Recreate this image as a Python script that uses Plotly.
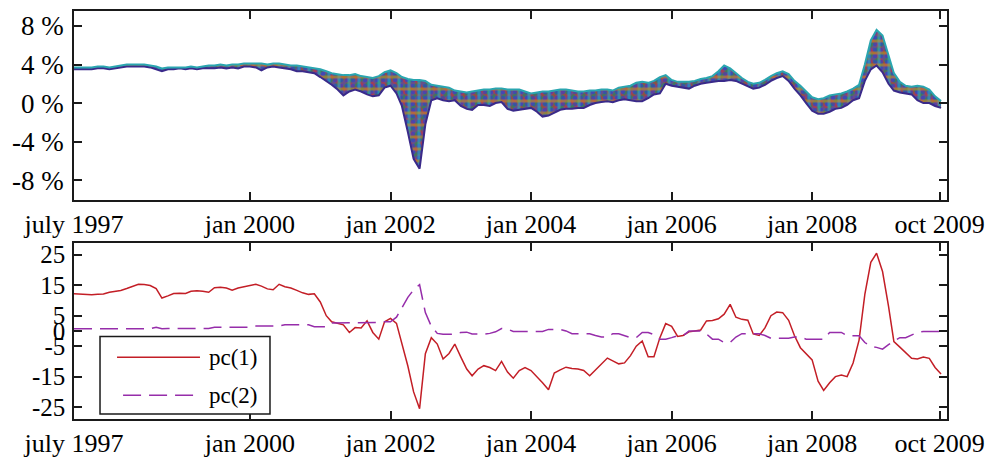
import plotly.graph_objects as go
import pandas as pd

# ---------------- data (monthly observations, July 1997 .. late 2009) ----------------
dates = pd.date_range("1997-07-01", periods=149, freq="MS")

# top panel: upper / lower edge of the fan of curves (in %)
band_upper = [
    3.7, 3.7, 3.7, 3.7, 3.8, 3.8, 3.7, 3.8, 3.9, 4.0,
    4.0, 4.0, 4.0, 3.9, 3.8, 3.6, 3.7, 3.7, 3.7, 3.7,
    3.8, 3.7, 3.8, 3.9, 3.9, 4.0, 3.9, 4.0, 4.0, 4.1,
    4.1, 4.1, 4.1, 4.0, 4.1, 4.1, 4.0, 3.9, 3.9, 3.8,
    3.7, 3.6, 3.5, 3.3, 3.1, 3.0, 2.9, 2.9, 3.0, 2.8,
    2.7, 2.6, 2.8, 3.2, 3.4, 3.1, 2.7, 2.5, 2.4, 2.4,
    2.3, 1.9, 1.8, 1.7, 1.6, 1.3, 1.2, 1.1, 1.2, 1.3,
    1.4, 1.4, 1.5, 1.5, 1.4, 1.4, 1.4, 1.2, 1.0, 1.1,
    1.2, 1.2, 1.3, 1.4, 1.4, 1.3, 1.2, 1.2, 1.3, 1.3,
    1.4, 1.4, 1.3, 1.6, 1.7, 1.8, 2.1, 2.2, 2.1, 2.3,
    2.7, 2.9, 2.4, 2.2, 2.2, 2.2, 2.3, 2.5, 2.6, 2.8,
    3.3, 3.9, 3.6, 3.1, 2.6, 2.2, 2.0, 2.1, 2.4, 2.8,
    3.1, 3.3, 3.0, 2.3, 1.8, 1.2, 0.6, 0.4, 0.5, 0.8,
    0.9, 1.0, 1.2, 1.5, 1.9, 4.0, 6.5, 7.6, 7.0, 5.0,
    3.1, 2.2, 1.8, 1.7, 1.8, 1.7, 1.4, 0.7, 0.2,
]
band_lower = [
    3.5, 3.5, 3.5, 3.5, 3.6, 3.6, 3.5, 3.6, 3.7, 3.8,
    3.8, 3.8, 3.8, 3.7, 3.5, 3.3, 3.5, 3.5, 3.6, 3.5,
    3.6, 3.5, 3.6, 3.6, 3.6, 3.7, 3.6, 3.7, 3.6, 3.8,
    3.8, 3.7, 3.4, 3.7, 3.8, 3.7, 3.6, 3.5, 3.3, 3.3,
    3.2, 3.1, 2.7, 2.3, 1.9, 1.4, 0.8, 1.2, 1.4, 1.2,
    0.9, 0.7, 0.8, 1.6, 1.8, 1.0, -0.3, -3.0, -5.8, -6.8,
    -2.2, 0.3, 0.5, 0.3, 0.2, 0.3, -0.3, -0.6, -0.7, -0.2,
    -0.2, -0.3, 0.0, 0.1, -0.6, -0.8, -0.7, -0.6, -0.5, -0.9,
    -1.4, -1.3, -1.0, -0.7, -0.6, -0.6, -0.5, -0.5, -0.2, 0.0,
    0.1, 0.2, 0.1, 0.3, 0.4, 0.3, 0.2, 0.2, 0.5, 0.9,
    1.0, 2.0, 1.8, 1.7, 1.6, 1.5, 1.8, 2.0, 2.1, 2.2,
    2.3, 2.3, 2.4, 2.3, 2.0, 1.7, 1.5, 1.6, 1.9, 2.3,
    2.6, 2.8, 2.3, 1.5, 0.8, 0.0, -0.8, -1.1, -1.1, -0.9,
    -0.6, -0.5, -0.2, 0.3, 0.5, 2.3, 3.5, 3.9, 3.2, 2.0,
    1.3, 1.1, 1.0, 0.9, 0.3, 0.0, 0.0, -0.3, -0.5,
]

# bottom panel: principal components
pc1 = [
    12.2, 12.1, 11.9, 11.9, 12.0, 12.1, 12.7, 13.0, 13.3, 13.9,
    14.7, 15.3, 15.2, 14.9, 13.9, 10.8, 11.5, 12.3, 12.4, 12.3,
    13.0, 13.2, 13.0, 12.7, 14.2, 14.3, 14.1, 13.4, 14.1, 14.5,
    15.1, 15.3, 14.7, 13.8, 13.5, 15.3, 14.5, 14.1, 13.3, 12.5,
    12.0, 12.2, 9.5, 5.0, 3.0, 2.6, 2.0, -0.5, 1.1, 1.0,
    3.3, -0.5, -2.7, 3.0, 4.1, 2.5, -4.0, -11.5, -20.0, -25.5,
    -7.5, -2.2, -4.3, -9.2, -7.4, -4.3, -8.5, -12.5, -14.7, -12.5,
    -11.4, -12.0, -13.0, -10.0, -13.5, -15.5, -13.0, -12.0, -13.0, -15.0,
    -17.0, -19.3, -13.8, -12.8, -11.9, -12.3, -12.5, -13.0, -14.7, -12.8,
    -10.8, -8.9, -9.8, -10.8, -10.5, -8.1, -5.0, -3.3, -8.5, -8.5,
    -2.2, 2.4, 1.5, -1.8, -1.5, -0.3, 0.0, 0.3, 3.3, 3.4,
    4.0, 5.5, 8.7, 4.5, 3.8, 3.5, -1.0, -1.5, 1.0, 5.0,
    6.2, 6.0, 3.5, -1.5, -5.5, -7.4, -9.5, -16.5, -19.5, -17.0,
    -15.0, -14.5, -15.0, -10.5, -3.0, 12.0, 22.5, 25.5, 19.5, 8.1,
    -3.5, -5.3, -7.0, -9.0, -9.2, -8.6, -9.0, -12.0, -14.1,
]
pc2 = [
    0.7, 0.7, 0.7, 0.7, 0.7, 0.7, 0.7, 0.7, 0.7, 0.7,
    0.7, 0.7, 0.7, 0.7, 1.2, 0.7, 0.8, 0.8, 0.8, 0.8,
    0.8, 0.8, 0.8, 0.8, 1.2, 1.2, 1.2, 1.2, 1.2, 1.2,
    1.2, 1.6, 1.6, 1.6, 1.6, 1.6, 2.0, 2.0, 2.0, 2.0,
    2.0, 1.4, 1.4, 1.4, 2.6, 2.6, 2.6, 2.8, 2.8, 2.8,
    2.8, 2.8, 2.8, 3.0, 3.0, 4.5, 7.8, 11.0, 13.5, 15.2,
    6.0, 1.5, -0.8, -1.1, -1.1, -1.0, -0.5, -0.4, -1.0, -1.1,
    -1.1, -0.8, -0.3, 0.8, 0.6, -0.2, -0.2, -0.2, -0.2, -0.2,
    -0.2, 0.5, 0.5, 0.5, 0.0, -0.9, -0.9, -0.9, -0.9, -1.5,
    -2.0, -2.0, -0.9, -0.9, -1.5, -2.2, -2.2, -0.5, -0.5, -1.2,
    -2.7, -2.7, -2.2, -1.6, -1.6, 0.0, 0.0, 0.0, -1.0, -2.7,
    -2.7, -3.8, -3.8, -2.0, -0.9, -0.9, -0.9, -0.9, -1.5, -2.4,
    -2.4, -2.4, -2.4, -2.0, -2.0, -2.7, -2.7, -2.7, -2.7, -0.5,
    -0.5, -0.5, -1.6, -1.6, -1.6, -3.8, -5.0, -5.4, -6.0, -4.5,
    -3.3, -2.2, -2.2, -1.2, -0.5, -0.2, -0.2, -0.2, -0.2,
]

tick_dates = ["1997-07-01", "2000-01-01", "2002-01-01", "2004-01-01",
              "2006-01-01", "2008-01-01", "2009-10-25"]
tick_labels = ["july 1997", "jan 2000", "jan 2002", "jan 2004",
               "jan 2006", "jan 2008", "oct 2009"]
top_ticks = [-8, -4, 0, 4, 8]
top_tick_labels = ["-8 %", "-4 %", "0 %", "4 %", "8 %"]
bottom_ticks = [-25, -15, -5, 0, 5, 15, 25]
bottom_tick_labels = ["-25", "-15", "-5", "0", "5", "15", "25"]
series_names = ["pc(1)", "pc(2)"]

# ---------------- figure ----------------
fig = go.Figure()

# fan: base fill + several coloured hatch layers between the edges
fan_layers = [
    dict(fillcolor="rgba(85,60,125,0.9)", pattern=None),
    dict(fillcolor="rgba(0,0,0,0)", pattern=dict(shape="/", fgcolor="#1ca02c", size=7, solidity=0.4)),
    dict(fillcolor="rgba(0,0,0,0)", pattern=dict(shape="\\", fgcolor="#e02828", size=8, solidity=0.35)),
    dict(fillcolor="rgba(0,0,0,0)", pattern=dict(shape=".", fgcolor="#1f3fe0", size=6, solidity=0.45)),
    dict(fillcolor="rgba(0,0,0,0)", pattern=dict(shape="|", fgcolor="#20c0c8", size=10, solidity=0.3)),
    dict(fillcolor="rgba(0,0,0,0)", pattern=dict(shape="-", fgcolor="#d09020", size=12, solidity=0.25)),
]
for layer in fan_layers:
    fig.add_trace(go.Scatter(x=dates, y=band_lower, mode="lines", line=dict(width=0),
                             hoverinfo="skip", showlegend=False, xaxis="x", yaxis="y"))
    kw = dict(fill="tonexty", fillcolor=layer["fillcolor"])
    if layer["pattern"] is not None:
        kw["fillpattern"] = layer["pattern"]
    fig.add_trace(go.Scatter(x=dates, y=band_upper, mode="lines", line=dict(width=0),
                             hoverinfo="skip", showlegend=False, xaxis="x", yaxis="y", **kw))

fig.add_trace(go.Scatter(x=dates, y=band_lower, mode="lines",
                         line=dict(color="#3a2a8a", width=2), showlegend=False,
                         xaxis="x", yaxis="y"))
fig.add_trace(go.Scatter(x=dates, y=band_upper, mode="lines",
                         line=dict(color="#2aa6b0", width=2), showlegend=False,
                         xaxis="x", yaxis="y"))

pc1_color = "rgb(195,30,38)"
pc2_color = "rgb(150,45,170)"
fig.add_trace(go.Scatter(x=dates, y=pc1, mode="lines", name=series_names[0],
                         line=dict(color=pc1_color, width=1.5), showlegend=False,
                         xaxis="x2", yaxis="y2"))
fig.add_trace(go.Scatter(x=dates, y=pc2, mode="lines", name=series_names[1],
                         line=dict(color=pc2_color, width=1.5, dash="18px,8px"),
                         showlegend=False, xaxis="x2", yaxis="y2"))

axis_common = dict(showline=True, linecolor="#1a1a1a", linewidth=1.5, mirror="ticks",
                   ticks="inside", ticklen=8, tickwidth=1.5, tickcolor="#1a1a1a",
                   showgrid=False, zeroline=False)
xfont = dict(family="Liberation Serif", size=26, color="black")
yfont_top = dict(family="Liberation Serif", size=27, color="black")
yfont_bot = dict(family="Liberation Serif", size=25, color="black")
x_range = [dates[0], "2009-12-02"]

# the page body adds an 8px offset, so the figure is 8px smaller than the window
fig.update_layout(
    width=985, height=451,
    margin=dict(l=66, r=46, t=1, b=40),
    paper_bgcolor="white", plot_bgcolor="white",
    showlegend=False,
    font=dict(family="Liberation Serif", size=25, color="black"),
    xaxis=dict(axis_common, type="date", range=x_range, domain=[0, 1], anchor="y",
               tickvals=tick_dates, ticktext=tick_labels, tickfont=xfont),
    yaxis=dict(axis_common, range=[-10.06, 9.55], domain=[0.5366, 1], anchor="x",
               tickvals=top_ticks, ticktext=top_tick_labels, tickfont=yfont_top,
               ticklabelstandoff=3),
    xaxis2=dict(axis_common, type="date", range=x_range, domain=[0, 1], anchor="y2",
                tickvals=tick_dates, ticktext=tick_labels, tickfont=xfont),
    yaxis2=dict(axis_common, range=[-28.9, 28.9], domain=[0, 0.4317], anchor="x2",
                tickvals=bottom_ticks, ticktext=bottom_tick_labels, tickfont=yfont_bot,
                ticklabelstandoff=2),
)

# legend box (MATLAB style) inside the lower panel
fig.add_shape(type="rect", xref="paper", yref="paper", x0=0.0298, x1=0.2245,
              y0=0.0122, y1=0.2024, line=dict(color="#1a1a1a", width=1.5),
              fillcolor="white", layer="above")
fig.add_shape(type="line", xref="paper", yref="paper", x0=0.0493, x1=0.1443,
              y0=0.1512, y1=0.1512, line=dict(color=pc1_color, width=1.5))
fig.add_shape(type="line", xref="paper", yref="paper", x0=0.0562, x1=0.1443,
              y0=0.0585, y1=0.0585, line=dict(color=pc2_color, width=1.5, dash="18px,8px"))
fig.add_annotation(xref="paper", yref="paper", x=0.1523, y=0.1512, text=series_names[0],
                   showarrow=False, xanchor="left", yanchor="middle",
                   font=dict(family="Liberation Serif", size=23, color="black"))
fig.add_annotation(xref="paper", yref="paper", x=0.1523, y=0.0585, text=series_names[1],
                   showarrow=False, xanchor="left", yanchor="middle",
                   font=dict(family="Liberation Serif", size=23, color="black"))

fig.write_html("out.html")
